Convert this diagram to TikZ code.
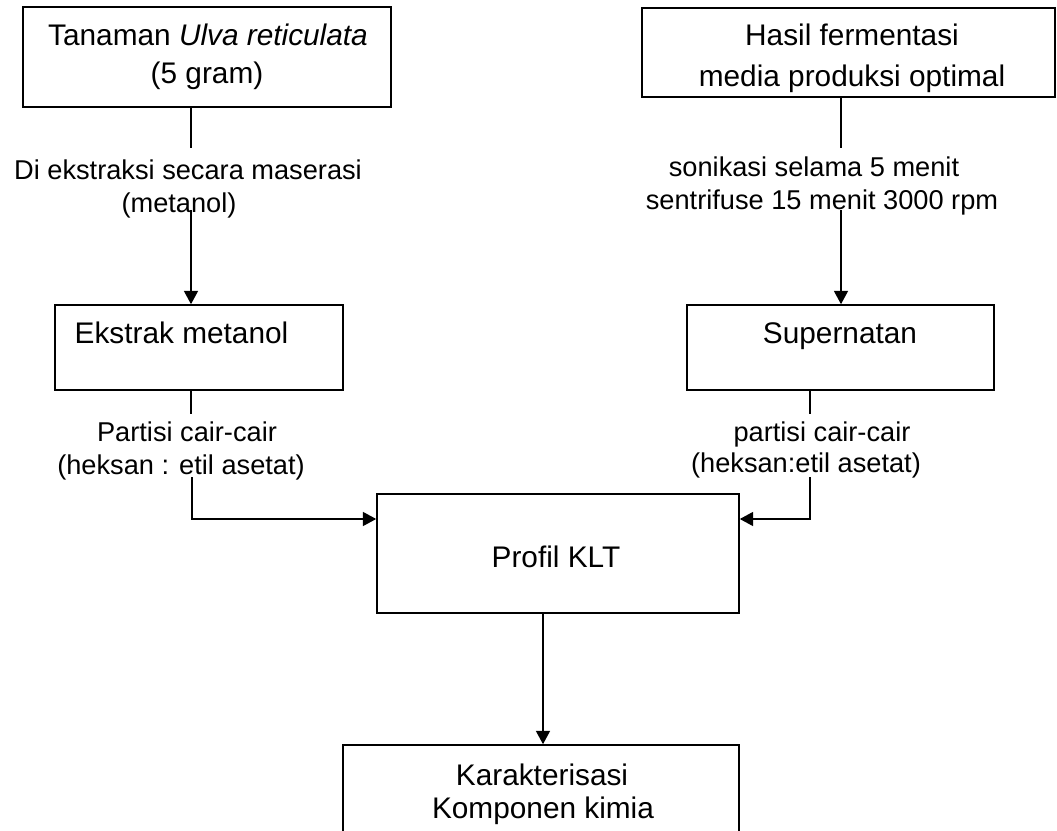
\documentclass[tikz,border=0pt]{standalone}
\usepackage{fontspec}
\setmainfont{Liberation Sans}
\usetikzlibrary{arrows.meta}
\begin{document}
\begin{tikzpicture}[x=0.75pt,y=-0.75pt,
  box/.style={draw, line width=1.2pt, inner sep=0pt, rectangle},
  boxtxt/.style={inner sep=0pt, font=\fontsize{22.35pt}{28.5pt}\selectfont, text height=16.1pt, text depth=0pt},
  lbl/.style={inner sep=0pt, font=\fontsize{20.4pt}{24.75pt}\selectfont, text height=14.7pt, text depth=0pt},
  conn/.style={line width=1.2pt},
  arr/.style={conn, -{Triangle[length=10pt,width=10.5pt]}}]
\useasboundingbox (0,0) rectangle (1057,831);
\clip (0,0) rectangle (1057,831);

% boxes
\node[box, minimum width=276pt, minimum height=75pt] (b1) at (207,57) {};
\node[box, minimum width=309.75pt, minimum height=66.75pt] (b2) at (848.5,52.5) {};
\node[box, minimum width=216pt, minimum height=63.75pt] (b3) at (199,347.5) {};
\node[box, minimum width=230.25pt, minimum height=63.75pt] (b4) at (840.5,347.5) {};
\node[box, minimum width=271.5pt, minimum height=89.25pt] (b5) at (558,553.5) {};
\node[box, minimum width=297pt, minimum height=97.5pt] (b6) at (541,810) {};

% box texts
\node[boxtxt] (t1a) at (208,35) {Tanaman \textit{Ulva reticulata}};
\node[boxtxt] (t1b) at (207,73) {(5 gram)};
\node[boxtxt] (t2a) at (852,35) {Hasil fermentasi};
\node[boxtxt] (t2b) at (852,76) {media produksi optimal};
\node[boxtxt] (t3) at (181.5,333) {Ekstrak metanol};
\node[boxtxt] (t4) at (840,333) {Supernatan};
\node[boxtxt] (t5) at (556,557) {Profil KLT};
\node[boxtxt] (t6a) at (542,775) {Karakterisasi};
\node[boxtxt] (t6b) at (543,808) {Komponen kimia};

% labels
\node[lbl] (l1a) at (188,170) {Di ekstraksi secara maserasi};
\node[lbl] (l1b) at (179,203) {(metanol)};
\node[lbl] (l2a) at (814,167) {sonikasi selama 5 menit};
\node[lbl] (l2b) at (822,200) {sentrifuse 15 menit 3000 rpm};
\node[lbl] (l3a) at (187,432) {Partisi cair-cair};
\node[lbl] (l3b) at (181,465) {(heksan : etil asetat)};
\node[lbl] (l4a) at (822,432) {partisi cair-cair};
\node[lbl] (l4b) at (806,463) {(heksan:etil asetat)};

% connectors
\coordinate (k1) at (191,148);
\draw[conn] (b1.south -| k1) -- (k1);
\coordinate (k2) at (191,210);
\draw[arr] (k2) -- (k2 |- b3.north);

\coordinate (k3) at (841,148);
\draw[conn] (b2.south -| k3) -- (k3);
\coordinate (k4) at (841,210);
\draw[arr] (k4) -- (k4 |- b4.north);

\coordinate (k5) at (191,414);
\draw[conn] (b3.south -| k5) -- (k5);
\coordinate (k6) at (192,477);
\coordinate (k7) at (192,519);
\draw[arr] (k6) -- (k7) -- (k7 -| b5.west);

\coordinate (k8) at (810,414);
\draw[conn] (b4.south -| k8) -- (k8);
\coordinate (k9) at (810,477);
\coordinate (k10) at (810,519);
\draw[arr] (k9) -- (k10) -- (k10 -| b5.east);

\coordinate (k11) at (543,680);
\draw[arr] (b5.south -| k11) -- (b6.north -| k11);
\end{tikzpicture}
\end{document}
